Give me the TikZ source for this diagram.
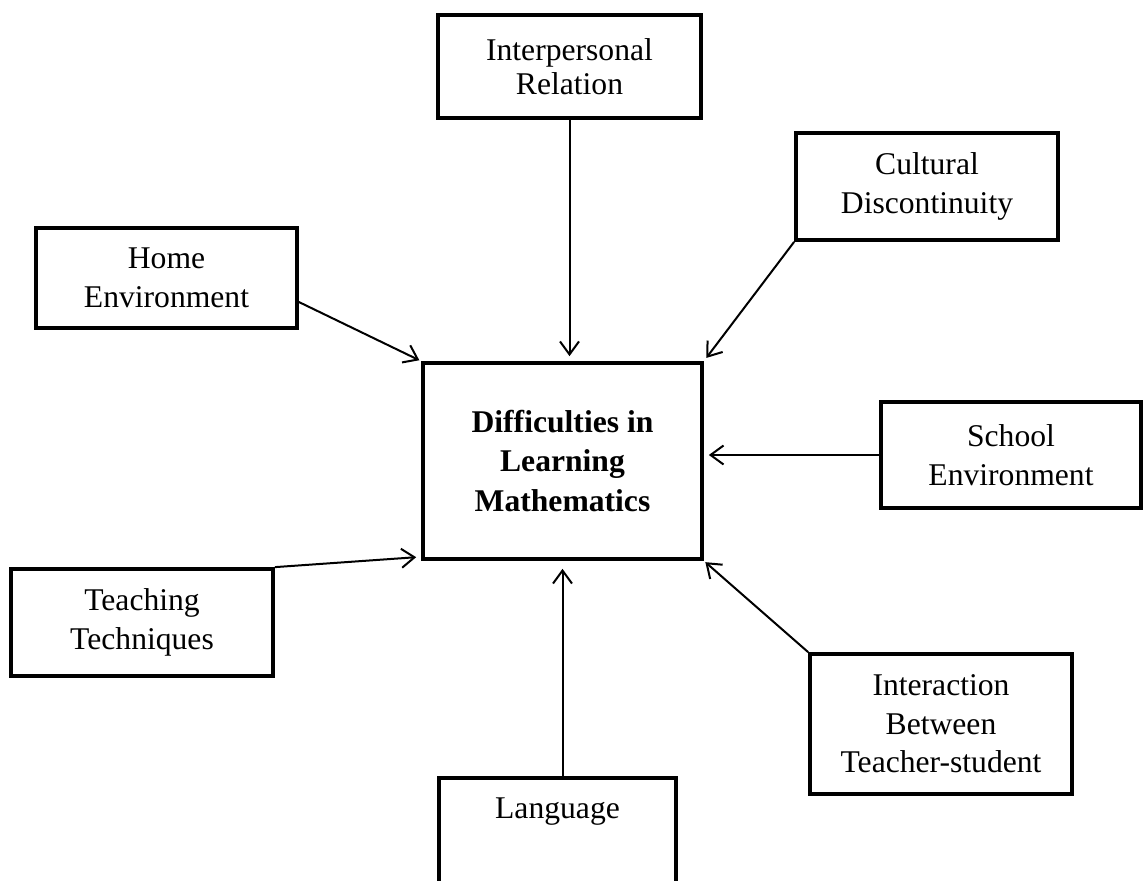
\documentclass[tikz,border=0pt]{standalone}
\usepackage{fontspec}
\setmainfont{Liberation Serif}
\usetikzlibrary{arrows.meta,calc}
\begin{document}
\begin{tikzpicture}[x=0.02cm,y=-0.02cm,
  box/.style={draw,line width=0.75mm,inner sep=0pt,align=center,
    font=\fontsize{18}{21.9}\selectfont},
  link/.style={line width=0.4mm,-{Straight Barb[length=2.6mm,width=3.8mm,line width=0.4mm]}}]
\clip (0,0) rectangle (1143,881);
\node[box,minimum width=5.26cm,minimum height=2.06cm,font=\fontsize{18}{19.5}\selectfont] (interp) at (569.5,66.5) {Interpersonal\\Relation};
\node[box,minimum width=5.24cm,minimum height=2.14cm] (cult) at (927,186.5) {Cultural\\Discontinuity};
\node[box,minimum width=5.22cm,minimum height=2.00cm] (home) at (166.5,278) {Home\\Environment};
\node[box,minimum width=5.58cm,minimum height=3.92cm,font=\fontsize{18}{22.3}\selectfont\bfseries] (center) at (562.5,461) {Difficulties in\\Learning\\Mathematics};
\node[box,minimum width=5.20cm,minimum height=2.12cm] (school) at (1011,455) {School\\Environment};
\node[box,minimum width=5.24cm,minimum height=2.14cm] (teach) at (142,622.5) {Teaching\\Techniques};
\node[box,minimum width=5.24cm,minimum height=2.80cm] (inter) at (941,724) {Interaction\\Between\\Teacher-student};
\node[box,minimum width=4.74cm,anchor=north,text height=0.82cm,text depth=1.5cm] (lang) at (557.5,776) {Language};
\draw[link,shorten >=0.04cm] ([yshift=-0.48cm]home.east) -- (center.north west);
\draw[link,shorten >=0.1cm] (interp.south) -- (interp.south |- center.north);
\draw[link,shorten >=0.08cm] (cult.south west) -- (center.north east);
\draw[link,shorten >=0.1cm] (school.west) -- (center.east |- school.west);
\draw[link,shorten >=0.1cm] (teach.north east) -- ([yshift=0.08cm]center.south west);
\draw[link,shorten >=0.04cm] (inter.north west) -- (center.south east);
\draw[link,shorten >=0.16cm] (lang.north -| center.south) -- (center.south);
\end{tikzpicture}
\end{document}
